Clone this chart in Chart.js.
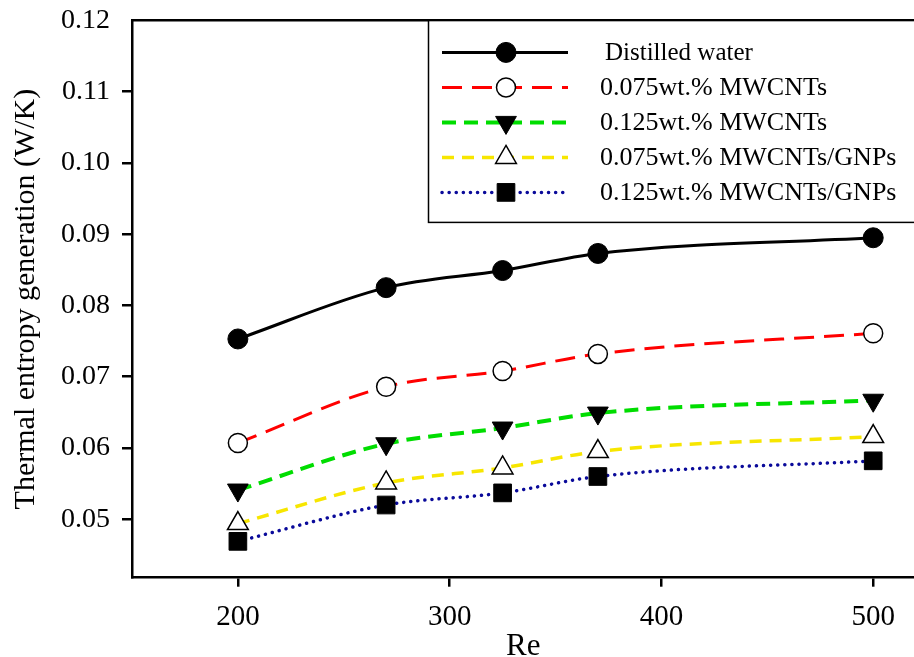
<!DOCTYPE html>
<html>
<head>
<meta charset="utf-8">
<script src="https://cdn.jsdelivr.net/npm/chart.js@4"></script>
<style>
  html, body { margin: 0; padding: 0; background: #fff; overflow: hidden; width: 914px; height: 657px; }
  #wrap { width: 928px; height: 657px; position: relative; }
</style>
</head>
<body>
<div id="wrap"><canvas id="c"></canvas></div>
<script>
// Reynolds numbers (x) and thermal entropy generation (W/K) per fluid
const reValues = [200, 270, 325, 370, 500];
const water = [0.0753, 0.0825, 0.0849, 0.0873, 0.0895];
const mwcnt075 = [0.0607, 0.0686, 0.0708, 0.0732, 0.0761];
const mwcnt125 = [0.0541, 0.0606, 0.0628, 0.0649, 0.0667];
const hybrid075 = [0.0494, 0.0551, 0.0572, 0.0595, 0.0616];
const hybrid125 = [0.0469, 0.0520, 0.0537, 0.0560, 0.0582];
const seriesNames = ['Distilled water', '0.075wt.% MWCNTs', '0.125wt.% MWCNTs', '0.075wt.% MWCNTs/GNPs', '0.125wt.% MWCNTs/GNPs'];
const xTicks = [200, 300, 400, 500];
const yTicks = [0.05, 0.06, 0.07, 0.08, 0.09, 0.10, 0.11, 0.12];

const FONT = '"Liberation Serif", "Times New Roman", serif';
const pts = (ys) => reValues.map((x, i) => ({ x, y: ys[i] }));

const datasets = [
  { label: seriesNames[0], data: pts(water), borderColor: '#000', borderWidth: 3, borderDash: [],
    pointStyle: 'circle', pointRadius: 10, pointBackgroundColor: '#000', pointBorderColor: '#000', pointBorderWidth: 1 },
  { label: seriesNames[1], data: pts(mwcnt075), borderColor: '#ff0000', borderWidth: 3, borderDash: [20, 10],
    pointStyle: 'circle', pointRadius: 9.5, pointBackgroundColor: '#fff', pointBorderColor: '#000', pointBorderWidth: 1.5 },
  { label: seriesNames[2], data: pts(mwcnt125), borderColor: '#00dd00', borderWidth: 4, borderDash: [14, 8],
    pointStyle: 'triangle', pointRotation: 180, pointRadius: 12, pointBackgroundColor: '#000', pointBorderColor: '#000', pointBorderWidth: 1 },
  { label: seriesNames[3], data: pts(hybrid075), borderColor: '#f7e600', borderWidth: 3.5, borderDash: [12, 8],
    pointStyle: 'triangle', pointRotation: 0, pointRadius: 12, pointBackgroundColor: '#fff', pointBorderColor: '#000', pointBorderWidth: 1.5 },
  { label: seriesNames[4], data: pts(hybrid125), borderColor: '#0a0a9a', borderWidth: 3.5, borderDash: [0.1, 7], borderCapStyle: 'round',
    pointStyle: 'rect', pointRadius: 12.5, pointBackgroundColor: '#000', pointBorderColor: '#000', pointBorderWidth: 1 }
];
datasets.forEach(d => { d.cubicInterpolationMode = 'monotone'; d.fill = false; d.pointHoverRadius = d.pointRadius; });

// legend: line sample with marker in the middle, inside a framed box
const boxLegend = {
  id: 'boxLegend',
  afterDraw(chart) {
    const ctx = chart.ctx;
    const top = chart.chartArea.top;
    ctx.save();
    ctx.fillStyle = '#fff';
    ctx.fillRect(428, top + 1, 600, 201);
    ctx.strokeStyle = '#000';
    ctx.lineWidth = 1.5;
    ctx.strokeRect(428.5, top, 600, 202);
    chart.data.datasets.forEach((ds, i) => {
      const y = top + 32 + i * 35;
      ctx.save();
      ctx.strokeStyle = ds.borderColor;
      ctx.lineWidth = ds.borderWidth;
      ctx.lineCap = ds.borderCapStyle || 'butt';
      ctx.setLineDash(ds.borderDash);
      ctx.beginPath();
      ctx.moveTo(442, y);
      ctx.lineTo(568, y);
      ctx.stroke();
      ctx.restore();
      ctx.save();
      ctx.fillStyle = ds.pointBackgroundColor;
      ctx.strokeStyle = ds.pointBorderColor;
      ctx.lineWidth = ds.pointBorderWidth;
      Chart.helpers.drawPoint(ctx, { pointStyle: ds.pointStyle, rotation: ds.pointRotation || 0, radius: ds.pointRadius, borderWidth: ds.pointBorderWidth }, 506, y);
      ctx.restore();
      ctx.fillStyle = '#000';
      ctx.font = (i === 0 ? '25px ' : '26px ') + FONT;
      ctx.textBaseline = 'middle';
      ctx.fillText(ds.label, i === 0 ? 605 : 600, y + 1);
    });
    ctx.restore();
  }
};

new Chart(document.getElementById('c'), {
  type: 'line',
  data: { datasets },
  plugins: [boxLegend],
  options: {
    responsive: true,
    maintainAspectRatio: false,
    animation: false,
    layout: { padding: { top: 20, right: 0, left: 0, bottom: 0 } },
    plugins: { legend: { display: false }, tooltip: { enabled: false } },
    scales: {
      x: {
        type: 'linear', position: 'bottom', min: 150, max: 519.5,
        afterBuildTicks: (s) => { s.ticks = xTicks.map(v => ({ value: v })); },
        border: { display: true, color: '#000', width: 2.5 },
        grid: { display: true, drawOnChartArea: false, drawTicks: true, tickLength: 9, color: '#000', lineWidth: 2.5 },
        ticks: { color: '#000', padding: 21, font: { family: FONT, size: 29, lineHeight: 0.7 }, maxRotation: 0 },
        title: { display: true, text: 'Re', color: '#000', font: { family: FONT, size: 31, lineHeight: 1 }, padding: { top: -18, bottom: -5 } }
      },
      x2: {
        type: 'linear', position: 'top', min: 150, max: 519.5,
        border: { display: true, color: '#000', width: 2.5 },
        grid: { display: false, drawTicks: false },
        ticks: { display: false }
      },
      y: {
        type: 'linear', min: 0.0418, max: 0.12,
        afterBuildTicks: (s) => { s.ticks = yTicks.map(v => ({ value: v })); },
        border: { display: true, color: '#000', width: 2.5 },
        grid: { display: true, drawOnChartArea: false, drawTicks: true, tickLength: 10, lineWidth: 2.5,
                color: (c) => (c.tick && c.tick.value > 0.1199) ? 'rgba(0,0,0,0)' : '#000' },
        ticks: { color: '#000', padding: 12, font: { family: FONT, size: 28, lineHeight: 0.6 },
                 callback: (v) => v.toFixed(2) },
        title: { display: true, text: 'Thermal entropy generation (W/K)', color: '#000',
                 font: { family: FONT, size: 30, lineHeight: 1 }, padding: { top: 11, bottom: 8 } }
      }
    }
  }
});
</script>
</body>
</html>
